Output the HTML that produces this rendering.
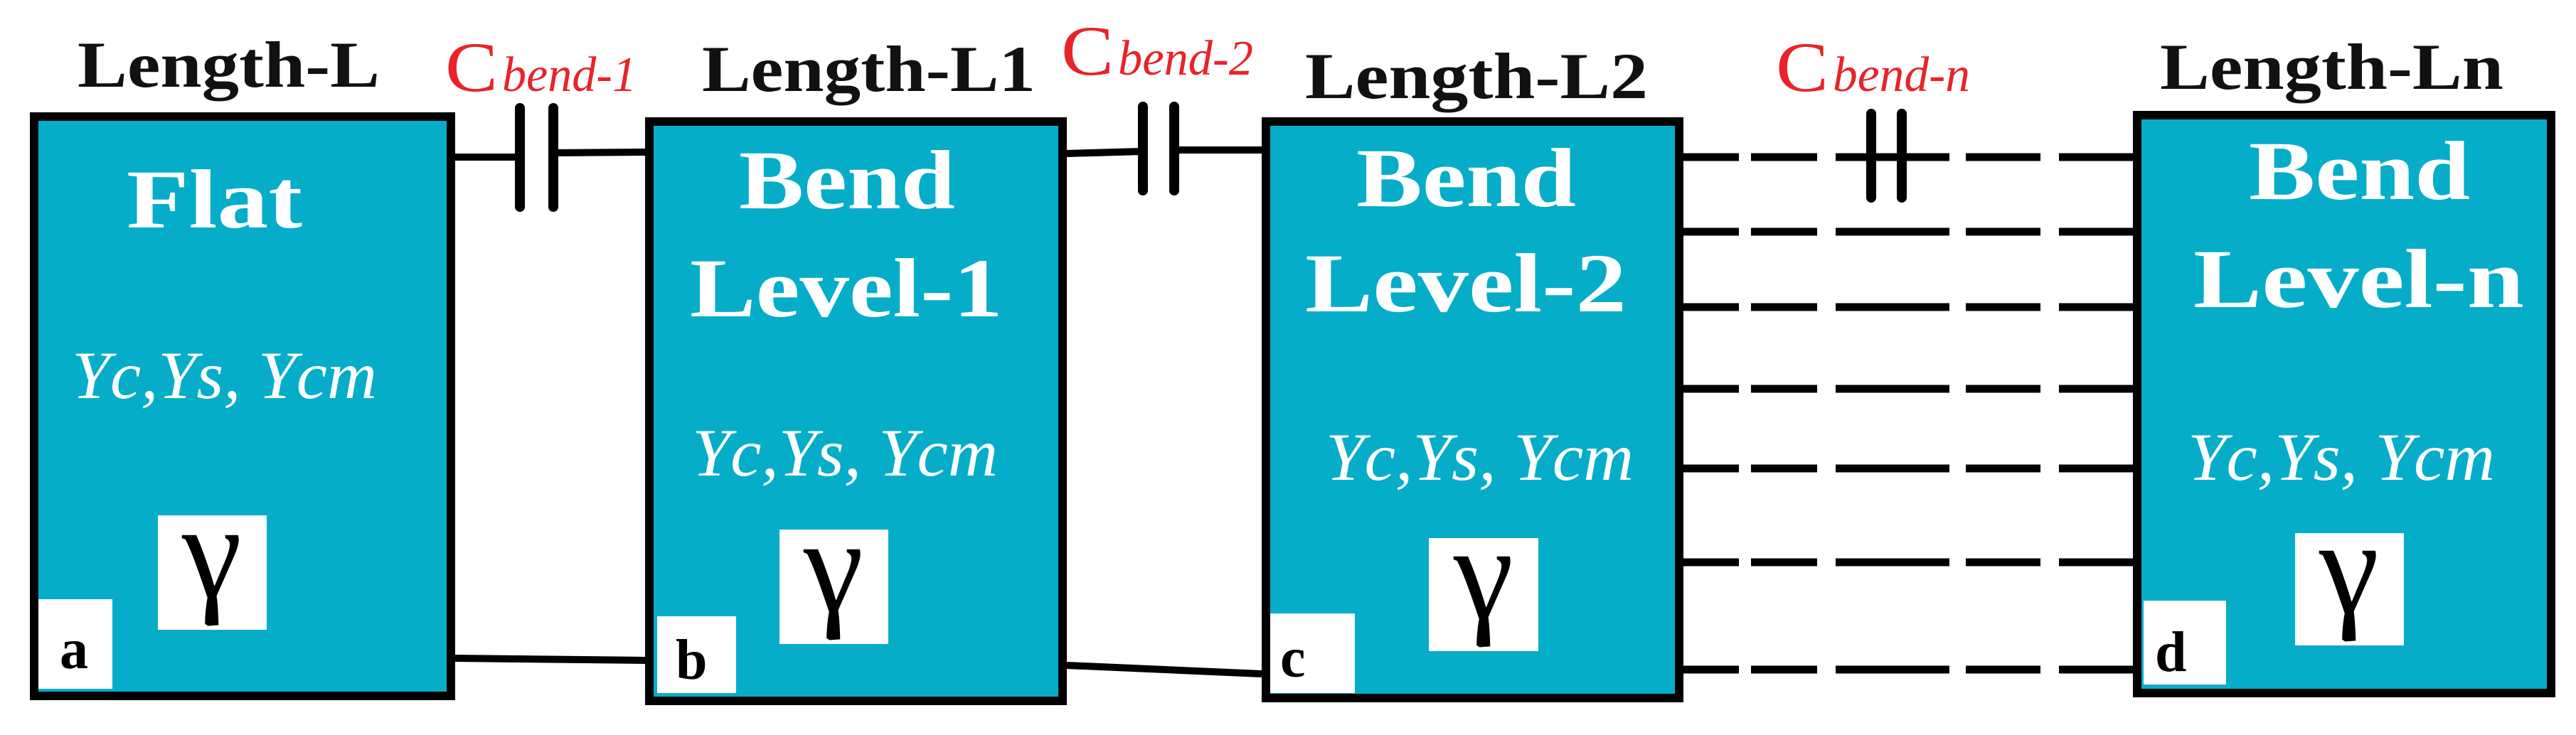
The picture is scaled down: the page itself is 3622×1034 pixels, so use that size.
<!DOCTYPE html>
<html><head><meta charset="utf-8"><style>html,body{margin:0;padding:0;background:#fff}svg{display:block}</style></head>
<body>
<svg width="3622" height="1034" viewBox="0 0 3622 1034" xmlns="http://www.w3.org/2000/svg">
<defs>
<g id="dl">
<line x1="2367" y1="0" x2="2445" y2="0"/>
<line x1="2462" y1="0" x2="2555" y2="0"/>
<line x1="2581" y1="0" x2="2741" y2="0"/>
<line x1="2764" y1="0" x2="2869" y2="0"/>
<line x1="2895" y1="0" x2="2999" y2="0"/>
</g>
</defs>
<g stroke="#000" stroke-width="12" fill="#06adc8">
<rect x="48" y="164" width="586" height="815"/>
<rect x="913" y="171" width="581" height="815"/>
<rect x="1780" y="171" width="581" height="811"/>
<rect x="3005" y="162" width="582" height="813"/>
</g>
<g stroke="#000" stroke-width="10" fill="none">
<line x1="640" y1="221" x2="729" y2="221"/>
<line x1="778" y1="215" x2="907" y2="214"/>
<line x1="640" y1="926" x2="907" y2="929"/>
<line x1="1500" y1="216" x2="1605" y2="213"/>
<line x1="1651" y1="211" x2="1774" y2="211"/>
<line x1="1500" y1="936" x2="1774" y2="948"/>
</g>
<g stroke="#000" stroke-width="11">
<use href="#dl" y="221"/><use href="#dl" y="326"/><use href="#dl" y="432"/><use href="#dl" y="547"/><use href="#dl" y="659"/><use href="#dl" y="791"/><use href="#dl" y="942"/>
</g>
<g stroke="#000" stroke-width="14" stroke-linecap="round">
<line x1="731" y1="152" x2="731" y2="291"/>
<line x1="778" y1="152" x2="778" y2="291"/>
<line x1="1607" y1="150" x2="1607" y2="268"/>
<line x1="1651" y1="150" x2="1651" y2="268"/>
<line x1="2631" y1="160" x2="2631" y2="278"/>
<line x1="2674" y1="160" x2="2674" y2="278"/>
</g>
<g font-family="'Liberation Serif', serif" font-weight="bold" fill="#111" font-size="92">
<text x="109" y="122" textLength="425" lengthAdjust="spacingAndGlyphs">Length-L</text>
<text x="987" y="128" textLength="469" lengthAdjust="spacingAndGlyphs">Length-L1</text>
<text x="1835" y="138" textLength="482" lengthAdjust="spacingAndGlyphs">Length-L2</text>
<text x="3037" y="125" textLength="483" lengthAdjust="spacingAndGlyphs">Length-Ln</text>
</g>
<g font-family="'Liberation Serif', serif" fill="#e8232a">
<text x="626" y="128" font-size="100" textLength="74" lengthAdjust="spacingAndGlyphs">C</text>
<text x="706" y="128" font-size="70" font-style="italic" textLength="189" lengthAdjust="spacingAndGlyphs">bend-1</text>
<text x="1492" y="105" font-size="100" textLength="74" lengthAdjust="spacingAndGlyphs">C</text>
<text x="1572" y="105" font-size="70" font-style="italic" textLength="190" lengthAdjust="spacingAndGlyphs">bend-2</text>
<text x="2497" y="128" font-size="100" textLength="74" lengthAdjust="spacingAndGlyphs">C</text>
<text x="2577" y="128" font-size="70" font-style="italic" textLength="193" lengthAdjust="spacingAndGlyphs">bend-n</text>
</g>
<g font-family="'Liberation Serif', serif" font-weight="bold" fill="#fff" font-size="118">
<text x="178" y="320" textLength="247" lengthAdjust="spacingAndGlyphs">Flat</text>
<text x="1039" y="293" textLength="304" lengthAdjust="spacingAndGlyphs">Bend</text>
<text x="970" y="445" textLength="440" lengthAdjust="spacingAndGlyphs">Level-1</text>
<text x="1907" y="290" textLength="309" lengthAdjust="spacingAndGlyphs">Bend</text>
<text x="1835" y="438" textLength="452" lengthAdjust="spacingAndGlyphs">Level-2</text>
<text x="3162" y="280" textLength="311" lengthAdjust="spacingAndGlyphs">Bend</text>
<text x="3084" y="432" textLength="465" lengthAdjust="spacingAndGlyphs">Level-n</text>
</g>
<g font-family="'Liberation Serif', serif" font-style="italic" fill="#fff" font-size="95">
<text x="101" y="560" textLength="429" lengthAdjust="spacingAndGlyphs">Yc,Ys, Ycm</text>
<text x="973" y="669" textLength="430" lengthAdjust="spacingAndGlyphs">Yc,Ys, Ycm</text>
<text x="1864" y="675" textLength="433" lengthAdjust="spacingAndGlyphs">Yc,Ys, Ycm</text>
<text x="3076" y="675" textLength="432" lengthAdjust="spacingAndGlyphs">Yc,Ys, Ycm</text>
</g>
<g fill="#fff">
<rect x="222" y="725" width="153" height="161"/>
<rect x="1096" y="745" width="153" height="161"/>
<rect x="2009" y="757" width="154" height="159"/>
<rect x="3227" y="750" width="153" height="158"/>
<rect x="54" y="843" width="104" height="126"/>
<rect x="924" y="867" width="111" height="108"/>
<rect x="1786" y="863" width="119" height="112"/>
<rect x="3014" y="845" width="116" height="118"/>
</g>
<g font-family="'Liberation Serif', serif" fill="#000" font-size="190" text-anchor="middle">
<text x="298" y="840">γ</text>
<text x="1172" y="860">γ</text>
<text x="2086" y="870">γ</text>
<text x="3303" y="862">γ</text>
</g>
<g font-family="'Liberation Serif', serif" font-weight="bold" fill="#000" font-size="80">
<text x="84" y="940">a</text>
<text x="950" y="955">b</text>
<text x="1800" y="952">c</text>
<text x="3030" y="944">d</text>
</g>
</svg>
</body></html>
